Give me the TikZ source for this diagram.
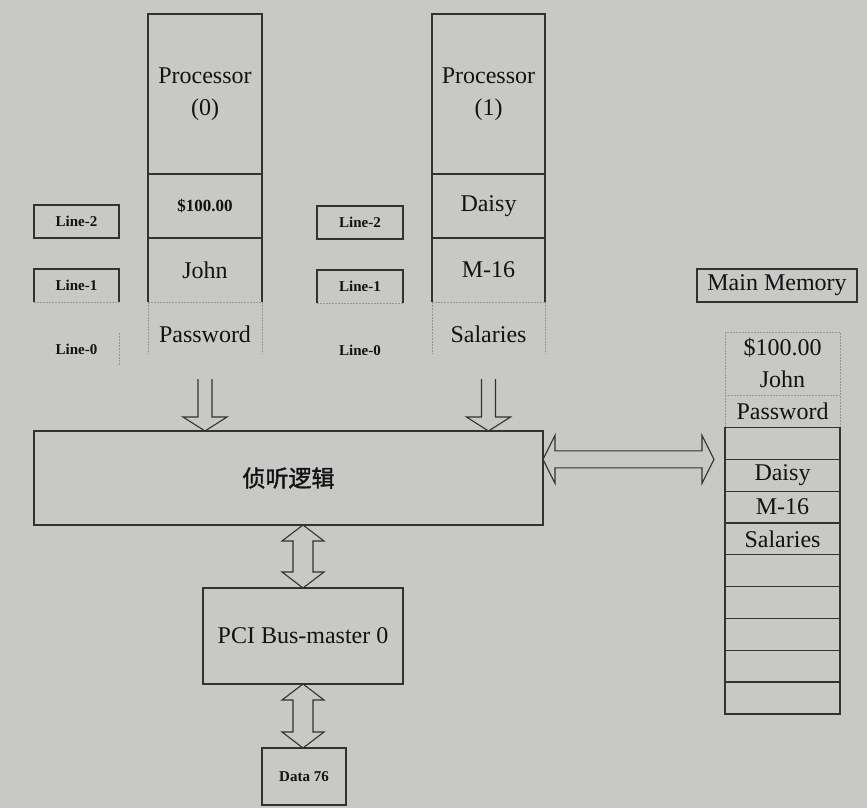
\documentclass[tikz,border=0pt]{standalone}
\usepackage{fontspec}
\setmainfont{Liberation Serif}
\newfontfamily\cjk[AutoFakeBold=1.5]{Noto Sans CJK SC}
\usetikzlibrary{calc}
\definecolor{bgc}{RGB}{200,200,198}
\definecolor{lnc}{RGB}{50,50,50}
\definecolor{txc}{RGB}{18,18,18}
\definecolor{fnc}{RGB}{150,150,148}
\tikzset{
  cell/.style={anchor=north west, inner sep=0pt, outer sep=0pt, text=txc, align=center},
  big/.style={font=\fontsize{24}{32}\selectfont},
  small/.style={font=\bfseries\fontsize{15}{17}\selectfont},
  mid/.style={font=\bfseries\fontsize{17}{19}\selectfont},
  solidln/.style={draw=lnc, line width=1.3pt},
  faintln/.style={draw=fnc, line width=0.7pt, dash pattern=on 1.5pt off 1.5pt},
  arrowln/.style={draw=lnc, line width=1.1pt, line join=miter},
}
\newcommand{\myDownArrow}[2]{%
  \draw[arrowln] let \p1=(#1), \p2=(#2) in
  (\x1-7pt,\y1) -- (\x1-7pt,\y2+14pt) -- (\x1-22pt,\y2+14pt) -- (\x1,\y2)
  -- (\x1+22pt,\y2+14pt) -- (\x1+7pt,\y2+14pt) -- (\x1+7pt,\y1);}
\newcommand{\myVDouble}[2]{%
  \draw[arrowln] let \p1=(#1), \p2=(#2) in
  (\x1,\y1) -- (\x1+21pt,\y1-16pt) -- (\x1+10pt,\y1-16pt) -- (\x1+10pt,\y2+16pt)
  -- (\x1+21pt,\y2+16pt) -- (\x1,\y2) -- (\x1-21pt,\y2+16pt) -- (\x1-10pt,\y2+16pt)
  -- (\x1-10pt,\y1-16pt) -- (\x1-21pt,\y1-16pt) -- cycle;}
\newcommand{\myHDouble}[2]{%
  \draw[arrowln] let \p1=(#1), \p2=(#2) in
  (\x1,\y1) -- (\x1+12pt,\y1+24pt) -- (\x1+12pt,\y1+8.5pt) -- (\x2-12pt,\y1+8.5pt)
  -- (\x2-12pt,\y1+24pt) -- (\x2,\y1) -- (\x2-12pt,\y1-24pt) -- (\x2-12pt,\y1-8.5pt)
  -- (\x1+12pt,\y1-8.5pt) -- (\x1+12pt,\y1-24pt) -- cycle;}
\begin{document}
\begin{tikzpicture}[x=1pt,y=-1pt]
\fill[bgc] (0,0) rectangle (867,808);
\useasboundingbox (0,0) rectangle (867,808);

% ---------- Processor 0 ----------
\node[cell,big,minimum width=114pt,minimum height=160pt] (p0) at (148,14) {\raisebox{-3pt}{Processor}\\\raisebox{-3pt}{(0)}};
\node[cell,mid,minimum width=114pt,minimum height=64pt] (a0) at (148,174) {\$100.00};
\node[cell,big,minimum width=114pt,minimum height=64pt] (b0) at (148,238) {John};
\node[cell,big,minimum width=114pt,minimum height=64pt] (c0) at (148,302) {Password};
\draw[solidln] (c0.north west) -- (p0.north west) -- (p0.north east) -- (c0.north east);
\draw[solidln] (p0.south west) -- (p0.south east);
\draw[solidln] (a0.south west) -- (a0.south east);
\draw[faintln] (c0.north west) -- (c0.north east);
\draw[faintln] (c0.north west) -- ($(c0.south west)+(0,-12)$);
\draw[faintln] (c0.north east) -- ($(c0.south east)+(0,-12)$);

% line boxes left
\node[cell,small,minimum width=85pt,minimum height=33pt] (l02) at (34,205) {Line-2};
\node[cell,small,minimum width=85pt,minimum height=33pt] (l01) at (34,269) {Line-1};
\node[cell,small,minimum width=85pt,minimum height=33pt] (l00) at (34,333) {Line-0};
\draw[solidln] (l02.north west) rectangle (l02.south east);
\draw[solidln] (l01.south west) -- (l01.north west) -- (l01.north east) -- (l01.south east);
\draw[faintln] (l01.south west) -- (l01.south east);
\draw[faintln] (l00.north east) -- (l00.south east);

% ---------- Processor 1 ----------
\node[cell,big,minimum width=113pt,minimum height=160pt] (p1) at (432,14) {\raisebox{-3pt}{Processor}\\\raisebox{-3pt}{(1)}};
\node[cell,big,minimum width=113pt,minimum height=64pt] (a1) at (432,174) {Daisy};
\node[cell,big,minimum width=113pt,minimum height=64pt] (b1) at (432,238) {M-16};
\node[cell,big,minimum width=113pt,minimum height=64pt] (c1) at (432,302) {Salaries};
\draw[solidln] (c1.north west) -- (p1.north west) -- (p1.north east) -- (c1.north east);
\draw[solidln] (p1.south west) -- (p1.south east);
\draw[solidln] (a1.south west) -- (a1.south east);
\draw[faintln] (c1.north west) -- (c1.north east);
\draw[faintln] (c1.north west) -- ($(c1.south west)+(0,-12)$);
\draw[faintln] (c1.north east) -- ($(c1.south east)+(0,-12)$);

% line boxes right
\node[cell,small,minimum width=86pt,minimum height=33pt] (l12) at (317,206) {Line-2};
\node[cell,small,minimum width=86pt,minimum height=33pt] (l11) at (317,270) {Line-1};
\node[cell,small,minimum width=86pt,minimum height=33pt] (l10) at (317,334) {Line-0};
\draw[solidln] (l12.north west) rectangle (l12.south east);
\draw[solidln] (l11.south west) -- (l11.north west) -- (l11.north east) -- (l11.south east);
\draw[faintln] (l11.south west) -- (l11.south east);

% ---------- Snoop logic ----------
\node[cell,solidln,minimum width=509pt,minimum height=94pt,font=\cjk\bfseries\fontsize{23}{26}\selectfont] (snoop) at (34,431) {侦听逻辑};

% ---------- PCI and Data ----------
\node[cell,solidln,big,minimum width=200pt,minimum height=96pt] (pci) at (203,588) {PCI Bus-master 0};
\node[cell,solidln,small,minimum width=84pt,minimum height=57pt] (data) at (262,748) {Data 76};

% ---------- Main memory ----------
\node[cell,solidln,big,minimum width=160pt,minimum height=33pt] (mml) at (697,269) {\raisebox{-2pt}{Main Memory}};
\foreach \i/\t in {0/\$100.00,1/John,2/Password,3/,4/Daisy,5/M-16,6/Salaries,7/,8/,9/,10/,11/}{
  \node[cell,big,minimum width=115pt,minimum height=31.83pt] (m\i) at (725,{332+31.83*\i}) {\t};
}
\draw[faintln] (m0.north west) rectangle (m2.south east);
\draw[faintln] (m2.north west) -- (m2.north east);
\draw[solidln] (m3.north west) -- (m11.south west) -- (m11.south east) -- (m3.north east);
\foreach \i in {3,...,11}{\draw[solidln] (m\i.north west) -- (m\i.north east);}

% ---------- Arrows ----------
\myDownArrow{$(c0.south)+(0,13)$}{c0.south |- snoop.north}
\myDownArrow{$(c1.south)+(0,13)$}{c1.south |- snoop.north}
\myHDouble{snoop.east |- m4.north}{$(m4.north west)+(-11,0)$}
\myVDouble{pci.north |- snoop.south}{pci.north}
\myVDouble{pci.south}{data.north}
\end{tikzpicture}
\end{document}
